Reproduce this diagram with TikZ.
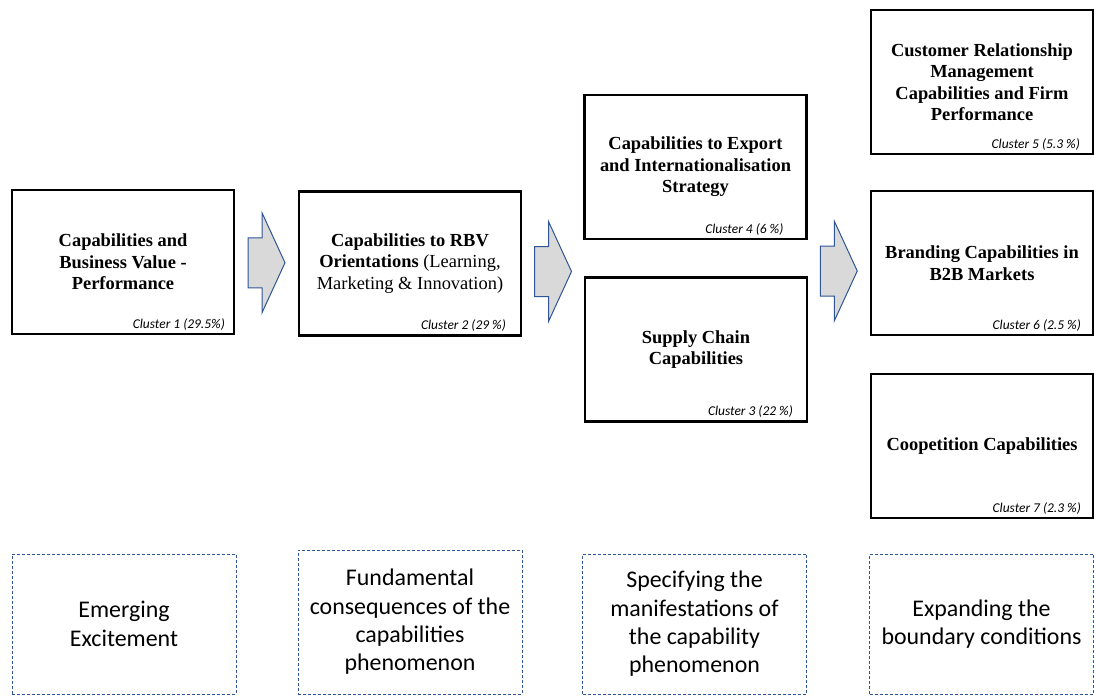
\documentclass[tikz,border=0pt]{standalone}
\usepackage{fontspec}
\setmainfont{Liberation Serif}
\newfontfamily\calibri{Carlito}
\usetikzlibrary{positioning, calc}
\definecolor{azulito}{RGB}{47,85,151}
\definecolor{grisito}{RGB}{217,217,217}
\tikzset{
  cluster/.style={draw=black, line width=2.2bp, minimum width=222bp, minimum height=144bp, inner sep=0pt, align=center, font=\fontsize{18.5}{21.5}\selectfont\bfseries},
  clusterlab/.style={inner sep=0pt, font=\calibri\itshape\fontsize{13.5}{15}\selectfont},
  phase/.style={draw=azulito, line width=0.9bp, dash pattern=on 3bp off 2bp, minimum width=224bp, minimum height=140bp, inner sep=0pt, align=center, font=\calibri\fontsize{24}{28.5}\selectfont},
  pics/blockarrow/.style={code={
    \draw [azulito, fill=grisito, line width=1bp] (-18.5,-25) -- (-4.5,-25) -- (-4.5,-50) -- (18.5,0) -- (-4.5,50) -- (-4.5,25) -- (-18.5,25) -- cycle;
  }}
}

\begin{document}
\begin{tikzpicture}[x=1bp, y=-1bp]
  \useasboundingbox (0,0) rectangle (1094,696);

  \node [cluster] (c1) at (123,262) {Capabilities and\\ Business Value -\\ Performance};
  \node [cluster] (c2) at (410,263.5) {Capabilities to RBV\\ Orientations \mdseries(Learning,\\ \mdseries Marketing \& Innovation)};
  \node [cluster] (c4) at (695.5,167) {Capabilities to Export\\ and Internationalisation\\ Strategy};
  \node [cluster] (c3) at (696,349.5) {Supply Chain\\ Capabilities};
  \node [cluster] (c5) at (982,82) {Customer Relationship\\ Management\\ Capabilities and Firm\\ Performance};
  \node [cluster] (c6) at (982,263) {Branding Capabilities in\\ B2B Markets};
  \node [cluster] (c7) at (982,446) {Coopetition Capabilities};

  \node [clusterlab, above left=5bp and 10bp of c1.south east] (c1lab) {Cluster 1 (29.5\%)};
  \node [clusterlab, above left=5bp and 16bp of c2.south east] (c2lab) {Cluster 2 (29 \%)};
  \node [clusterlab, above left=5bp and 24bp of c4.south east] (c4lab) {Cluster 4 (6 \%)};
  \node [clusterlab, above left=5bp and 15bp of c3.south east] (c3lab) {Cluster 3 (22 \%)};
  \node [clusterlab, above left=5bp and 14bp of c5.south east] (c5lab) {Cluster 5 (5.3 \%)};
  \node [clusterlab, above left=5bp and 13bp of c6.south east] (c6lab) {Cluster 6 (2.5 \%)};
  \node [clusterlab, above left=5bp and 13bp of c7.south east] (c7lab) {Cluster 7 (2.3 \%)};

  \pic at ($(c1.east)!.5!(c2.west)$) {blockarrow};
  \pic at ($(c2.east)!.5!(c3.west |- c2.east) + (0,8)$) {blockarrow};
  \pic at ($(c4.east |- c6.west)!.5!(c6.west) + (0,8)$) {blockarrow};

  % stages
  \node [phase] (p1) at (124,624) {Emerging\\ Excitement};
  \node [phase, minimum height=144bp] (p2) at (410,622) {Fundamental\\ consequences of the\\ capabilities\\ phenomenon};
  \node [phase] (p3) at (694.5,624) {Specifying the\\ manifestations of\\ the capability\\ phenomenon};
  \node [phase] (p4) at (981.5,624) {Expanding the\\ boundary conditions};

\end{tikzpicture}
\end{document}
